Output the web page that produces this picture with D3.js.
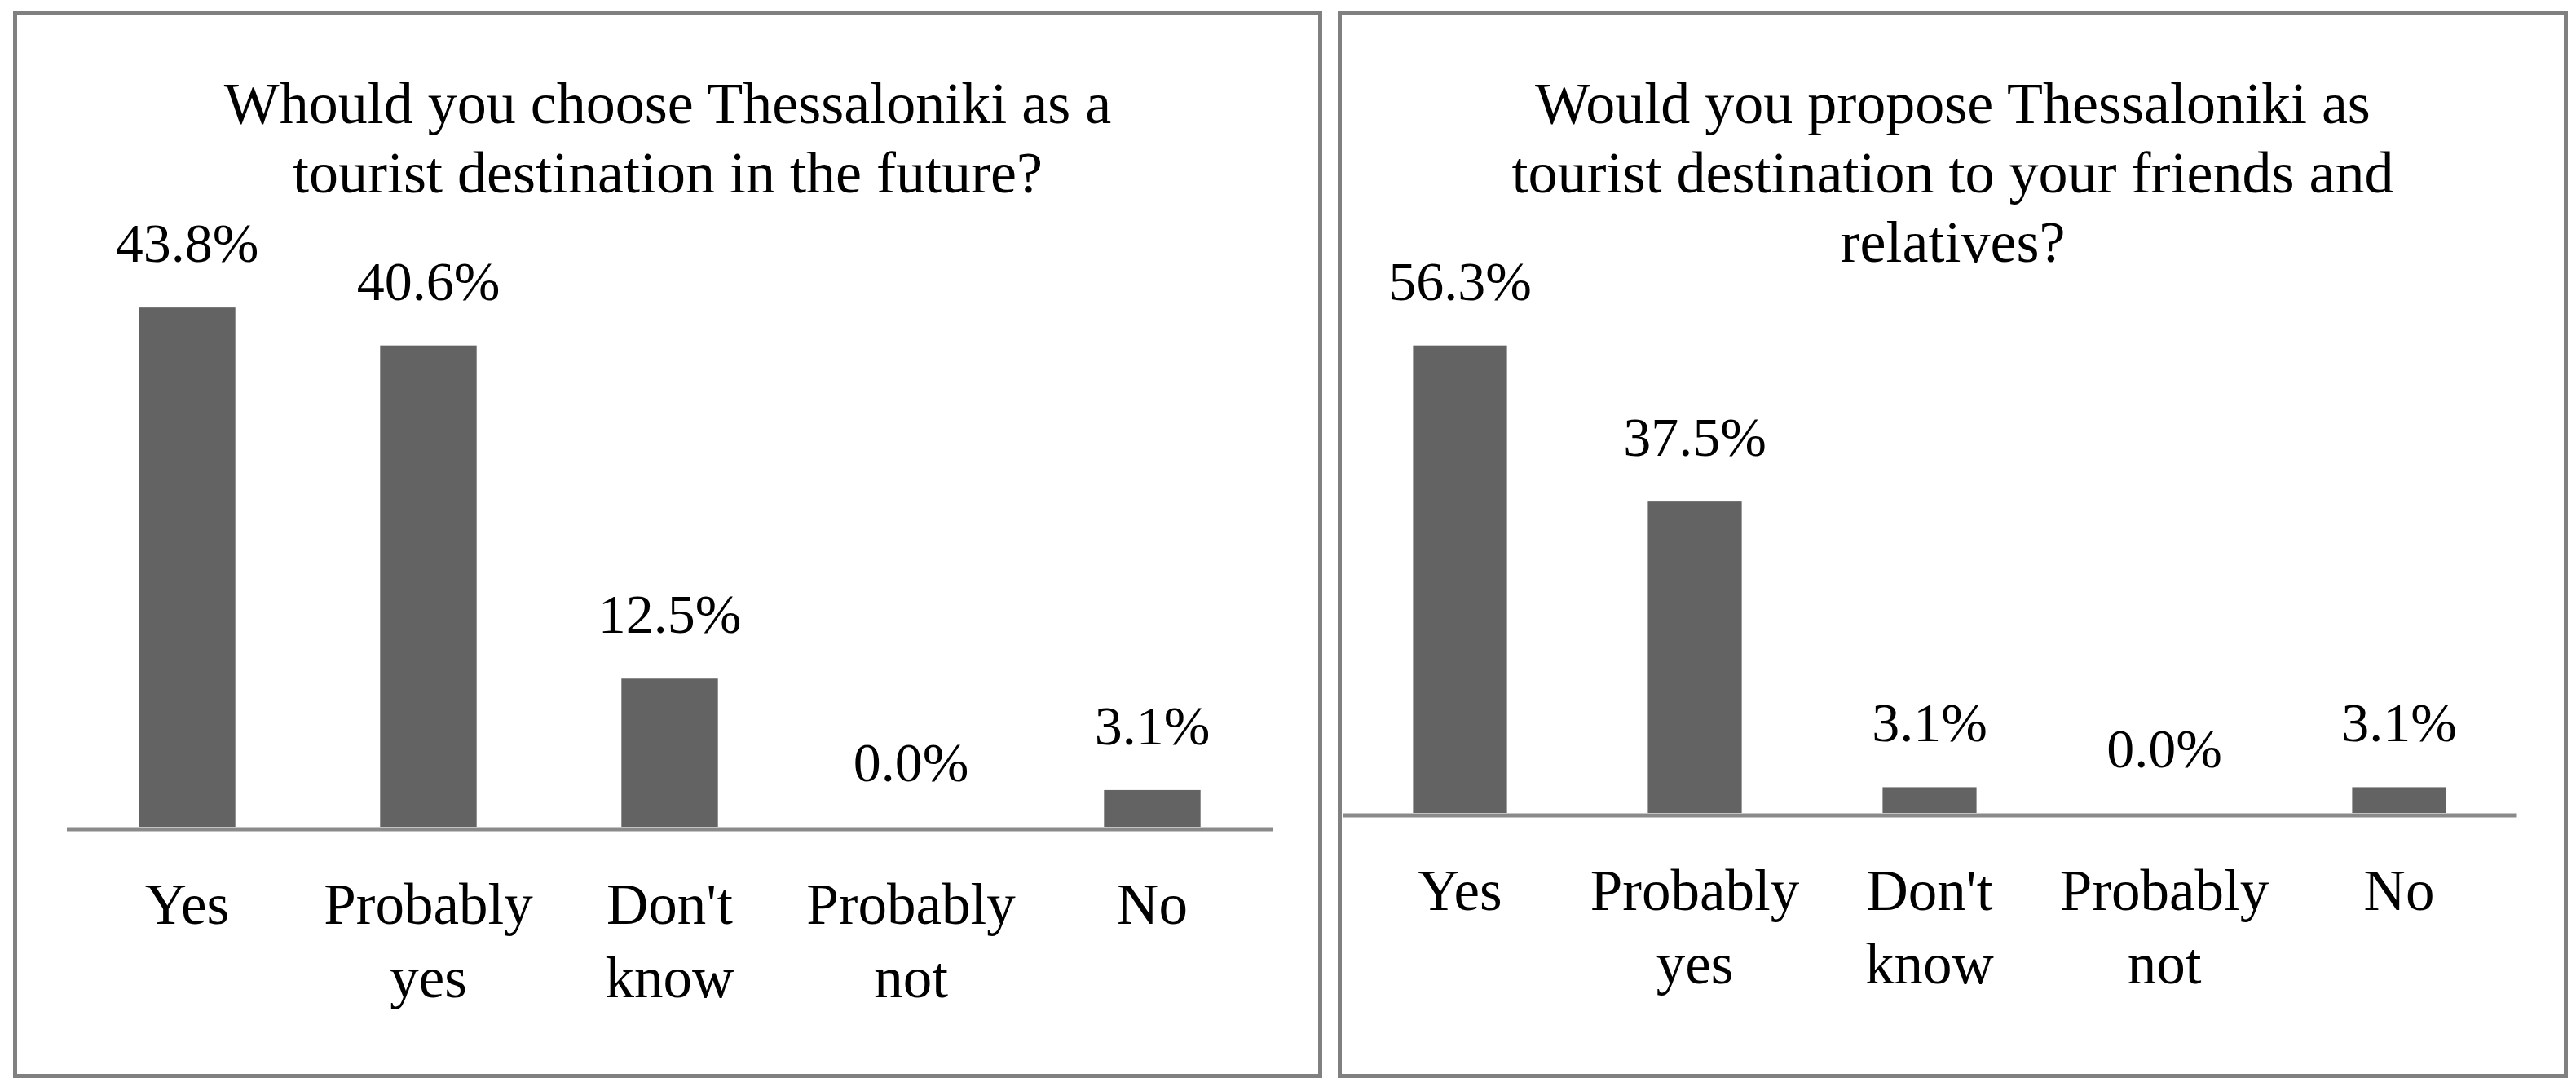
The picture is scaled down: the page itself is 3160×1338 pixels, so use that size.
<!DOCTYPE html>
<html>
<head>
<meta charset="utf-8">
<script src="https://cdn.jsdelivr.net/npm/d3@7"></script>
<style>
  html, body { margin: 0; padding: 0; background: #ffffff; }
  svg { display: block; }
  text { font-family: "Liberation Serif", "Times New Roman", serif; fill: #000; }
</style>
</head>
<body>
<svg id="chart" width="3160" height="1338"></svg>
<script>
// ---- data ----
const categories = ["Yes", "Probably yes", "Don't know", "Probably not", "No"];
const chooseValues = [43.8, 40.6, 12.5, 0.0, 3.1];
const proposeValues = [56.3, 37.5, 3.1, 0.0, 3.1];
const chooseTitle = ["Whould you choose Thessaloniki as a", "tourist destination in the future?"];
const proposeTitle = ["Would you propose Thessaloniki as", "tourist destination to your friends and", "relatives?"];

// ---- layout ----
const svg = d3.select("#chart");
const panels = [
  { title: chooseTitle, values: chooseValues, box: [18.5, 16.5, 1619.5, 1319.5],
    xRange: [81.5, 1561.5], yBase: 1014, yMax: 50, yTop: 287, axisY: 1016.5 },
  { title: proposeTitle, values: proposeValues, box: [1643.5, 16.5, 3147.5, 1319.5],
    xRange: [1647, 3087], yBase: 997, yMax: 60, yTop: 386, axisY: 999.5 }
];

const barColor = "#636363";
const borderColor = "#808080";
const axisColor = "#8a8a8a";
const titleSize = 72;
const valueSize = 68;
const catSize = 71;

panels.forEach(p => {
  const g = svg.append("g");
  const [x0, y0, x1, y1] = p.box;
  g.append("rect")
    .attr("x", x0).attr("y", y0)
    .attr("width", x1 - x0).attr("height", y1 - y0)
    .attr("fill", "#fff").attr("stroke", borderColor).attr("stroke-width", 5);

  const x = d3.scaleBand().domain(categories).range(p.xRange).paddingInner(0.6).paddingOuter(0.3);
  const y = d3.scaleLinear().domain([0, p.yMax]).range([p.yBase, p.yTop]);

  // title
  const cx = (x0 + x1) / 2;
  g.append("text")
    .attr("text-anchor", "middle")
    .attr("font-size", titleSize)
    .selectAll("tspan").data(p.title).join("tspan")
    .attr("x", cx)
    .attr("y", (d, i) => 151 + i * 85)
    .text(d => d);

  const data = categories.map((c, i) => ({ c, v: p.values[i] }));

  // bars
  g.selectAll("rect.bar").data(data).join("rect")
    .attr("class", "bar")
    .attr("x", d => x(d.c))
    .attr("width", x.bandwidth())
    .attr("y", d => y(d.v))
    .attr("height", d => y(0) - y(d.v))
    .attr("fill", barColor);

  // axis line (category axis, no ticks)
  const axis = d3.axisBottom(x).tickSize(0).tickFormat("");
  const ag = g.append("g").attr("transform", `translate(0,${p.axisY})`).call(axis);
  ag.select(".domain").attr("stroke", axisColor).attr("stroke-width", 5);

  // data labels
  g.selectAll("text.val").data(data).join("text")
    .attr("class", "val")
    .attr("text-anchor", "middle")
    .attr("font-size", valueSize)
    .attr("x", d => x(d.c) + x.bandwidth() / 2)
    .attr("y", d => y(d.v) - 56)
    .text(d => d.v.toFixed(1) + "%");

  // category labels (wrapped on spaces)
  g.selectAll("text.cat").data(data).join("text")
    .attr("class", "cat")
    .attr("text-anchor", "middle")
    .attr("font-size", catSize)
    .each(function(d) {
      const words = d.c.split(" ");
      d3.select(this).selectAll("tspan").data(words).join("tspan")
        .attr("x", x(d.c) + x.bandwidth() / 2)
        .attr("y", (w, i) => p.axisY + 116.5 + i * 90)
        .text(w => w);
    });
});
</script>
</body>
</html>
